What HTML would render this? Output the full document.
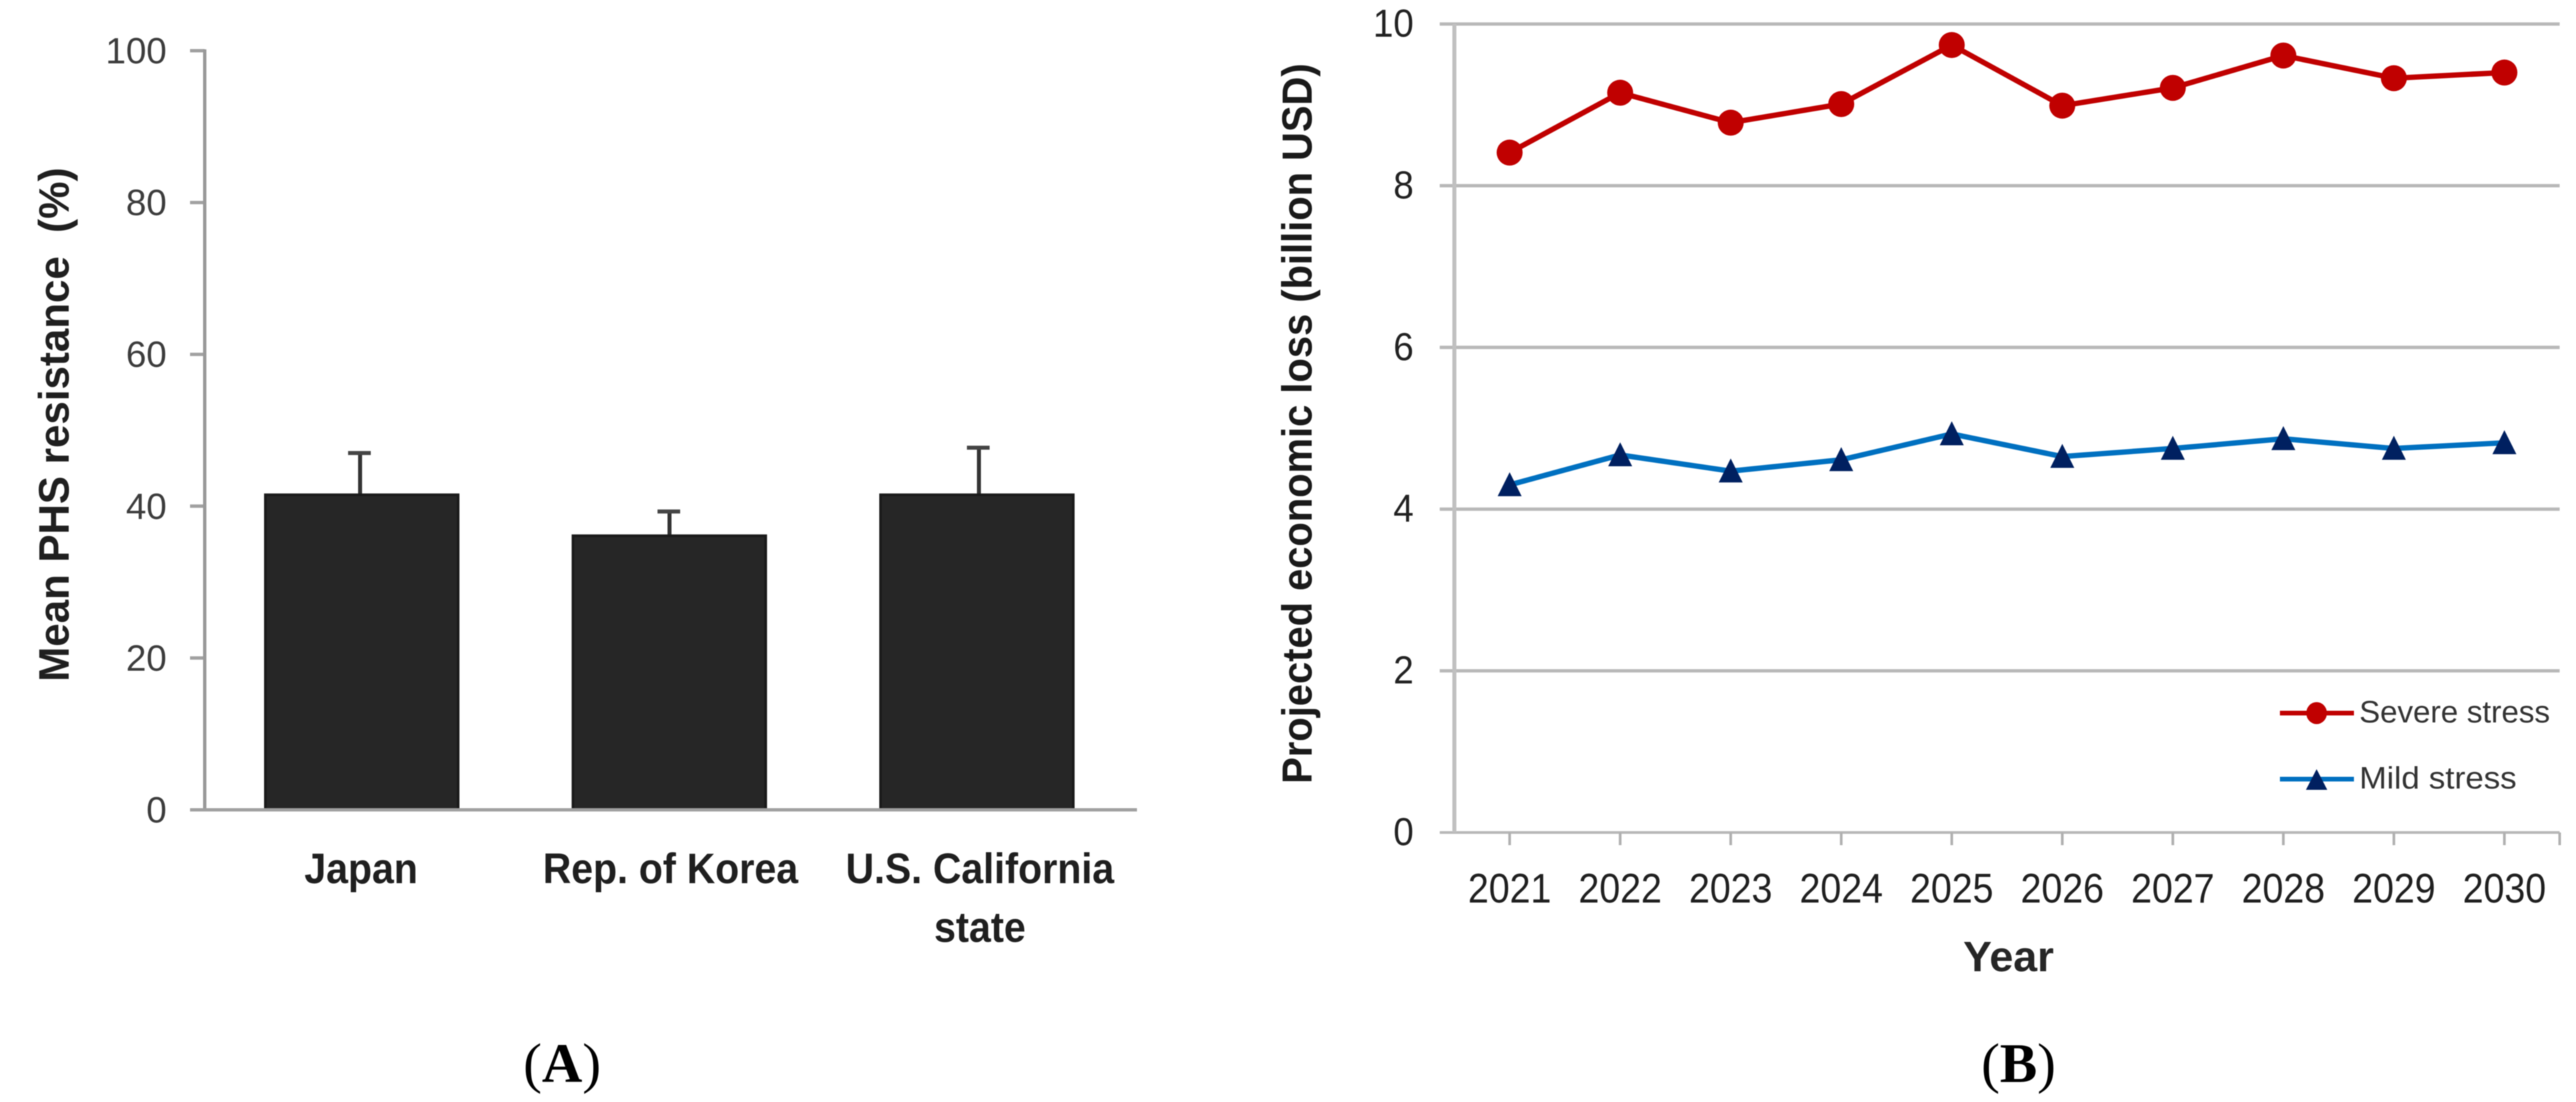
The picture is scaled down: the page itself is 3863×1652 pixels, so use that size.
<!DOCTYPE html>
<html lang="en">
<head>
<meta charset="utf-8">
<title>PHS resistance and projected economic loss</title>
<style>
html,body{margin:0;padding:0;background:#fff;width:3863px;height:1652px;overflow:hidden}
svg{display:block;position:absolute;left:0;top:0}
text{font-family:"Liberation Sans",sans-serif}
#marks{filter:blur(0.9px)}
</style>
</head>
<body>
<svg id="fig" xmlns="http://www.w3.org/2000/svg" width="3863" height="1652" viewBox="0 0 3863 1652">
  <rect x="0" y="0" width="3863" height="1652" fill="#fff"/>
  <g id="marks">
    <g id="panelA">
      <text transform="translate(103,1022) rotate(-90)" font-size="64" font-weight="700" fill="#1f1f1f" textLength="771" lengthAdjust="spacingAndGlyphs" xml:space="preserve">Mean PHS resistance  (%)</text>
    </g>
    <g id="panelB">
      <text transform="translate(1967,1175) rotate(-90)" font-size="63" font-weight="700" fill="#1a1a1a" textLength="1080" lengthAdjust="spacingAndGlyphs">Projected economic loss (billion USD)</text>
      <text x="3012" y="1456" text-anchor="middle" font-size="64" font-weight="700" fill="#262626" textLength="136" lengthAdjust="spacingAndGlyphs">Year</text>
    </g>
    <g id="legend">
      <g>
        <line x1="3419" y1="1069" x2="3530" y2="1069" stroke="#c00000" stroke-width="7"/>
        <ellipse cx="3474" cy="1069" rx="15.5" ry="16.5" fill="#c00000"/>
        <text x="3538" y="1083" font-size="46" fill="#333" textLength="286" lengthAdjust="spacingAndGlyphs">Severe stress</text>
      </g>
      <g>
        <line x1="3419" y1="1168" x2="3530" y2="1168" stroke="#0070c0" stroke-width="7"/>
        <polygon points="3474,1153 3490,1184 3458,1184" fill="#002060"/>
        <text x="3538" y="1182" font-size="46" fill="#333" textLength="236" lengthAdjust="spacingAndGlyphs">Mild stress</text>
      </g>
    </g>
    <text x="843" y="1622" text-anchor="middle" font-size="84" style='font-family:"Liberation Serif",serif' fill="#000">(<tspan font-weight="700">A</tspan>)</text>
    <text x="3027" y="1622" text-anchor="middle" font-size="84" style='font-family:"Liberation Serif",serif' fill="#000">(<tspan font-weight="700">B</tspan>)</text>
  </g>
</svg>
<script>
// Panel A data
const barCategories = [["Japan"], ["Rep. of Korea"], ["U.S. California", "state"]];
const barValues = [41.5, 36.1, 41.5];
const barErrorTops = [47.0, 39.3, 47.7];
const barTicks = [0, 20, 40, 60, 80, 100];

// Panel B data
const years = ["2021", "2022", "2023", "2024", "2025", "2026", "2027", "2028", "2029", "2030"];
const severeStress = [8.41, 9.15, 8.78, 9.01, 9.74, 8.99, 9.21, 9.61, 9.33, 9.40];
const mildStress = [4.30, 4.67, 4.47, 4.61, 4.93, 4.65, 4.75, 4.87, 4.75, 4.82];
const lossTicks = [0, 2, 4, 6, 8, 10];

const NS = "http://www.w3.org/2000/svg";
function make(tag, attrs, parent, text) {
  const el = document.createElementNS(NS, tag);
  for (const k in attrs) el.setAttribute(k, attrs[k]);
  if (text !== undefined) el.textContent = text;
  parent.appendChild(el);
  return el;
}

/* ---------- Panel A ---------- */
(function () {
  const g = document.getElementById("panelA");
  const axisX = 307, baseY = 1214, topY = 76, rightX = 1705;
  const maxV = barTicks[barTicks.length - 1];
  const yA = v => baseY - (v / maxV) * (baseY - topY);
  const xA = i => 542.5 + i * 461.25;
  const xErr = i => 540 + i * 464;
  const barW = 289;

  barTicks.forEach(t => {
    const tick = make("line", { x1: 285, x2: axisX, y1: yA(t), y2: yA(t), stroke: "#a0a0a0", "stroke-width": 5 }, g);
    
    
    const lab = make("text", { x: 250, y: yA(t) + 19, "text-anchor": "end", "font-size": 55, fill: "#3c3c3c" }, g, String(t));
    
    
  });

  barValues.forEach((v, i) => {
    const cx = xA(i);
    const ex = xErr(i);
    const stem = make("line", { x1: ex, x2: ex, y1: yA(barErrorTops[i]), y2: yA(v), stroke: "#333", "stroke-width": 6 }, g);
    
    
    const cap = make("line", { x1: ex - 18, x2: ex + 16, y1: yA(barErrorTops[i]), y2: yA(barErrorTops[i]), stroke: "#444", "stroke-width": 6 }, g);
    
    
    const bar = make("rect", { x: cx - barW / 2, y: yA(v), width: barW, height: baseY - yA(v), fill: "#262626", stroke: "#1a1a1a", "stroke-width": 4 }, g);
    
    
    barCategories[i].forEach((line, j) => {
      const lab = make("text", { x: ex + 1.5, y: 1324 + j * 88, "text-anchor": "middle", "font-size": 64, "font-weight": 700, fill: "#1f1f1f" }, g, line);
      
      
      lab.setAttribute("textLength", lab.getComputedTextLength() * 0.92);
      lab.setAttribute("lengthAdjust", "spacingAndGlyphs");
    });
  });

  const yAxis = make("line", { x1: axisX, x2: axisX, y1: topY - 2, y2: baseY, stroke: "#999", "stroke-width": 5 }, g);
  
  
  const xAxis = make("line", { x1: 285, x2: rightX, y1: baseY, y2: baseY, stroke: "#a0a0a0", "stroke-width": 5 }, g);
  
  
})();

/* ---------- Panel B ---------- */
(function () {
  const g = document.getElementById("panelB");
  const axisX = 2181, rightX = 3838.5, baseY = 1248, topY = 36;
  const maxV = lossTicks[lossTicks.length - 1];
  const yB = v => baseY - (v / maxV) * (baseY - topY);
  const step = (rightX - axisX) / years.length;
  const xB = i => axisX + step * (i + 0.5);

  lossTicks.forEach(t => {
    const grid = make("line", { x1: 2159, x2: rightX, y1: yB(t), y2: yB(t), stroke: "#b8b8b8", "stroke-width": t === 0 ? 4 : 5 }, g);
    
    
    const s = String(t);
    const lab = make("text", { x: 2120, y: yB(t) + 19, "text-anchor": "end", "font-size": 58, fill: "#222", textLength: s.length * 30.5, lengthAdjust: "spacingAndGlyphs" }, g, s);
    
    
  });

  const yAxis = make("line", { x1: axisX, x2: axisX, y1: topY, y2: baseY, stroke: "#c0c0c0", "stroke-width": 6 }, g);
  
  

  for (let i = 0; i <= years.length; i++) {
    const tx = i === years.length ? rightX : xB(i);
    const tick = make("line", { x1: tx, x2: tx, y1: baseY, y2: baseY + 19, stroke: "#b0b0b0", "stroke-width": 4 }, g);
    
    
  }

  years.forEach((y, i) => {
    const lab = make("text", { x: xB(i), y: 1353, "text-anchor": "middle", "font-size": 62, fill: "#1f1f1f", textLength: 125, lengthAdjust: "spacingAndGlyphs" }, g, y);
    
    
  });

  const severeLine = make("polyline", { points: severeStress.map((v, i) => xB(i) + "," + yB(v)).join(" "), fill: "none", stroke: "#c00000", "stroke-width": 8, "stroke-linejoin": "round" }, g);
  
  
  severeStress.forEach((v, i) => {
    const pt = make("circle", { cx: xB(i), cy: yB(v), r: 19.5, fill: "#c00000" }, g);
    
    
  });

  const mildLine = make("polyline", { points: mildStress.map((v, i) => xB(i) + "," + yB(v)).join(" "), fill: "none", stroke: "#0070c0", "stroke-width": 8, "stroke-linejoin": "round" }, g);
  
  
  mildStress.forEach((v, i) => {
    const cx = xB(i), cy = yB(v);
    const pts = [[cx, cy - 19], [cx + 18, cy + 17], [cx - 18, cy + 17]].map(p => p.join(",")).join(" ");
    const pt = make("polygon", { points: pts, fill: "#002060" }, g);
    
    
  });
})();
</script>
</body>
</html>
